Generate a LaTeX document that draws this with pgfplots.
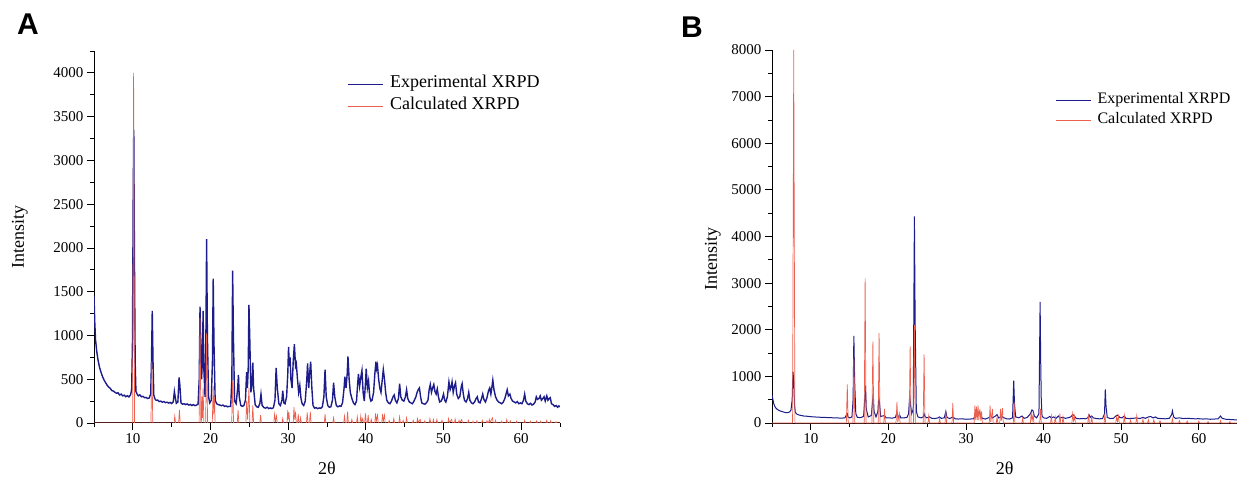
\documentclass[border=0pt]{standalone}
\usepackage{fontspec}
\setmainfont{Liberation Serif}
\newfontfamily\lettersf{Liberation Sans}
\newfontfamily\tickfont{Liberation Serif}
\usepackage{pgfplots}
\pgfplotsset{compat=1.18}
\definecolor{expblue}{RGB}{28,28,138}
\definecolor{calred}{RGB}{236,96,78}
\pgfplotsset{xrpd/.style={
  scale only axis, axis lines*=left, tick align=outside,
  xmin=5, xmax=65, ymin=0,
  xtick={10,20,...,60}, minor xtick={5,15,...,65},
  major tick length=7pt, minor tick length=4pt,
  every tick/.style={black, line width=0.8pt},
  axis line style={black, line width=1pt},
  tick label style={font=\tickfont\fontsize{15}{15}\selectfont},
  /pgf/number format/assume math mode=true,
  /pgf/number format/1000 sep={},
  scaled ticks=false,
  label style={font=\fontsize{18}{18}\selectfont},
  xlabel={2θ}, ylabel={Intensity},
  xlabel style={at={(axis description cs:0.5,-0.121)}, anchor=center},
  legend cell align=left,
  legend image code/.code={\draw[#1, line width=0.6pt] (0pt,0pt) -- (35pt,0pt); \path (41pt,0pt);},
}}
\begin{document}
\begin{tikzpicture}
\useasboundingbox (0,0) rectangle (1237pt,482pt);
\node[font=\lettersf\bfseries\fontsize{30}{30}\selectfont] at (28pt,458pt) {A};
\node[font=\lettersf\bfseries\fontsize{30}{30}\selectfont] at (692pt,455pt) {B};
\begin{axis}[xrpd, at={(94pt,59pt)}, anchor=south west, width=466pt, height=372pt,
  ymax=4250, ytick={0,500,...,4000}, minor ytick={250,750,...,4250},
  ylabel style={at={(axis description cs:-0.159,0.5)}, anchor=center},
  legend style={draw=none, fill=none, inner sep=0pt, at={(0.545,0.882)}, anchor=west,
    font=\fontsize{18}{18}\selectfont, row sep=6pt,
    nodes={inner sep=0pt, text height=12pt, text depth=4pt}}]
\addplot[expblue, line width=1.4pt] coordinates {
(5.0,1450) (5.1,1150) (5.2,950) (5.35,820) (5.5,730) (5.7,640) (5.9,580) (6.1,530) (6.3,490) (6.5,460) (6.7,430) (6.9,410) (7.1,395) (7.3,370) (7.5,365) (7.7,350) (7.9,340) (8.1,345) (8.3,320) (8.5,330) (8.7,310) (8.9,318) (9.1,300) (9.3,312) (9.5,298) (9.7,320) (9.85,380) (9.95,900) (10.05,2600) (10.12,3350) (10.2,2000) (10.3,700) (10.4,360) (10.55,330) (10.7,310) (10.9,322) (11.1,300) (11.3,305) (11.5,290) (11.7,292) (11.9,280) (12.1,285) (12.3,330) (12.4,700) (12.5,1280) (12.6,700) (12.7,320) (12.85,275) (13.0,258) (13.2,262) (13.4,245) (13.6,250) (13.8,238) (14.0,245) (14.2,232) (14.4,238) (14.6,228) (14.8,235) (15.0,222) (15.2,240) (15.35,360) (15.45,300) (15.6,225) (15.8,240) (15.95,520) (16.05,440) (16.2,230) (16.4,215) (16.6,220) (16.8,210) (17.0,218) (17.2,205) (17.4,212) (17.6,200) (17.8,210) (18.0,198) (18.2,205) (18.4,215) (18.55,500) (18.65,1330) (18.75,900) (18.85,500) (18.95,700) (19.05,1280) (19.15,600) (19.3,300) (19.4,900) (19.5,2100) (19.6,1000) (19.75,300) (19.9,230) (20.1,260) (20.25,700) (20.35,1650) (20.45,900) (20.6,260) (20.8,220) (21.0,210) (21.2,205) (21.4,198) (21.6,205) (21.8,190) (22.0,195) (22.2,185) (22.4,190) (22.6,190) (22.75,500) (22.85,1740) (22.95,1000) (23.1,250) (23.3,220) (23.5,400) (23.6,550) (23.7,300) (23.9,200) (24.1,190) (24.3,200) (24.5,260) (24.65,580) (24.75,400) (24.85,600) (24.95,1350) (25.05,1000) (25.2,350) (25.35,450) (25.45,690) (25.55,400) (25.75,210) (25.95,185) (26.15,180) (26.35,220) (26.5,330) (26.65,200) (26.9,175) (27.1,170) (27.3,180) (27.5,165) (27.7,172) (27.9,165) (28.1,175) (28.3,260) (28.45,630) (28.6,400) (28.8,220) (29.0,200) (29.2,260) (29.3,370) (29.45,230) (29.6,220) (29.8,300) (29.95,560) (30.05,870) (30.15,650) (30.25,750) (30.35,500) (30.5,400) (30.65,700) (30.8,900) (30.95,650) (31.05,680) (31.2,500) (31.35,350) (31.5,430) (31.65,280) (31.8,220) (32.0,200) (32.2,250) (32.4,500) (32.5,680) (32.65,400) (32.75,550) (32.9,700) (33.05,400) (33.2,200) (33.4,170) (33.6,175) (33.8,165) (34.0,172) (34.2,168) (34.4,185) (34.6,300) (34.75,610) (34.9,300) (35.1,200) (35.3,180) (35.5,185) (35.7,260) (35.85,460) (36.0,300) (36.2,200) (36.4,185) (36.6,195) (36.8,190) (37.0,230) (37.2,400) (37.3,530) (37.45,400) (37.6,560) (37.7,760) (37.85,500) (38.0,350) (38.2,280) (38.4,230) (38.6,210) (38.8,250) (38.95,450) (39.05,560) (39.2,420) (39.35,520) (39.5,600) (39.65,350) (39.8,250) (39.95,450) (40.05,620) (40.2,400) (40.35,480) (40.5,300) (40.65,250) (40.8,260) (41.0,350) (41.15,550) (41.3,700) (41.4,620) (41.5,660) (41.65,500) (41.8,400) (41.95,350) (42.1,480) (42.25,610) (42.4,500) (42.55,350) (42.7,260) (42.9,230) (43.1,220) (43.3,250) (43.5,300) (43.65,320) (43.8,260) (44.0,230) (44.2,280) (44.35,450) (44.5,300) (44.7,260) (44.9,250) (45.1,300) (45.25,380) (45.4,280) (45.6,240) (45.8,230) (46.0,220) (46.2,250) (46.45,300) (46.6,350) (46.75,380) (46.9,400) (47.05,300) (47.2,230) (47.4,220) (47.6,215) (47.8,230) (48.0,260) (48.15,380) (48.3,440) (48.45,350) (48.6,400) (48.75,440) (48.9,360) (49.05,330) (49.2,390) (49.35,300) (49.5,240) (49.7,250) (49.85,280) (50.0,330) (50.15,260) (50.3,240) (50.5,300) (50.7,470) (50.85,380) (51.0,420) (51.1,470) (51.25,350) (51.4,420) (51.55,460) (51.7,330) (51.9,280) (52.1,300) (52.3,420) (52.4,450) (52.55,330) (52.7,260) (52.9,240) (53.1,280) (53.25,350) (53.4,260) (53.6,230) (53.8,220) (54.0,240) (54.2,280) (54.35,300) (54.5,240) (54.7,230) (54.9,280) (55.05,330) (55.2,270) (55.4,240) (55.6,290) (55.8,370) (55.95,400) (56.1,330) (56.25,420) (56.35,490) (56.5,380) (56.7,300) (56.9,260) (57.1,240) (57.3,230) (57.5,220) (57.7,240) (57.9,280) (58.05,330) (58.2,380) (58.35,310) (58.55,330) (58.7,280) (58.9,250) (59.1,240) (59.3,230) (59.5,245) (59.7,220) (59.9,230) (60.1,220) (60.3,260) (60.45,330) (60.6,250) (60.8,220) (61.0,210) (61.2,225) (61.4,205) (61.6,215) (61.8,240) (61.95,300) (62.1,270) (62.3,280) (62.45,310) (62.6,260) (62.8,280) (62.95,300) (63.1,250) (63.3,310) (63.45,260) (63.6,280) (63.75,290) (63.9,220) (64.1,210) (64.3,190) (64.5,200) (64.7,180) (64.85,195) (65.0,185)
};
\addlegendentry{Experimental XRPD}
\addplot[calred, line width=0.7pt] coordinates {
(5,0) (9.98,0) (10.1,4000) (10.22,0)
(12.33,0) (12.45,700) (12.57,0)
(15.3,0) (15.4,80) (15.5,0)
(15.9,0) (16.0,150) (16.1,0)
(18.53,0) (18.65,1200) (18.76,0)
(18.82,0) (18.9,300) (18.97,60) (19.05,400) (19.15,0)
(19.38,0) (19.5,1030) (19.62,0)
(20.23,0) (20.35,420) (20.42,100) (20.5,300) (20.6,0)
(22.73,0) (22.85,480) (22.97,0)
(23.45,0) (23.55,150) (23.65,0)
(24.55,0) (24.65,250) (24.78,40) (24.95,400) (25.07,0)
(25.35,0) (25.45,200) (25.55,0)
(26.35,0) (26.45,90) (26.55,0)
(28.15,0) (28.25,100) (28.37,20) (28.5,80) (28.6,0)
(29.2,0) (29.3,50) (29.4,0)
(29.85,0) (29.95,150) (30.02,40) (30.1,120) (30.2,0)
(30.65,0) (30.75,180) (30.85,40) (30.95,130) (31.05,0)
(31.2,0) (31.3,100) (31.4,0) (31.5,0) (31.6,60) (31.7,0)
(32.35,0) (32.45,120) (32.55,10) (32.75,0) (32.85,130) (32.95,0)
(34.65,0) (34.75,100) (34.85,0)
(35.75,0) (35.85,60) (35.95,0)
(37.15,0) (37.25,80) (37.35,10) (37.55,0) (37.65,130) (37.75,0)
(38.1,0) (38.2,40) (38.3,0)
(38.8,0) (38.9,70) (39.0,0) (39.25,0) (39.35,80) (39.45,10) (39.6,50) (39.7,0)
(39.85,0) (39.95,110) (40.05,10) (40.2,0) (40.3,90) (40.4,0)
(40.6,0) (40.7,40) (40.8,0)
(41.15,0) (41.25,110) (41.35,20) (41.5,90) (41.6,0)
(42.05,0) (42.15,100) (42.25,20) (42.4,90) (42.5,0)
(42.9,0) (43.0,30) (43.1,0) (43.5,0) (43.6,50) (43.7,0)
(44.25,0) (44.35,70) (44.45,0) (44.7,0) (44.8,30) (44.9,0)
(45.15,0) (45.25,60) (45.35,0) (46.0,0) (46.1,30) (46.2,0)
(46.55,0) (46.65,50) (46.75,5) (47.0,40) (47.1,0) (47.5,0) (47.6,25) (47.7,0)
(48.15,0) (48.25,50) (48.35,5) (48.6,0) (48.7,40) (48.8,0) (49.05,0) (49.15,40) (49.25,0)
(49.7,0) (49.8,30) (49.9,0) (50.55,0) (50.65,50) (50.75,5) (51.05,40) (51.15,0)
(51.4,0) (51.5,45) (51.6,0) (51.9,0) (52.0,30) (52.1,5) (52.35,40) (52.45,0)
(53.1,0) (53.2,30) (53.3,0) (53.7,0) (53.8,20) (53.9,0) (54.2,0) (54.3,25) (54.4,0)
(54.9,0) (55.0,30) (55.1,0) (55.5,0) (55.6,25) (55.7,0) (55.8,0) (55.9,40) (56.0,5) (56.3,60) (56.4,0) (56.6,0) (56.7,30) (56.8,0)
(57.4,0) (57.5,20) (57.6,0) (58.05,0) (58.15,40) (58.25,0) (58.5,0) (58.6,25) (58.7,0)
(59.3,0) (59.4,20) (59.5,0) (60.35,0) (60.45,30) (60.55,0) (61.1,0) (61.2,20) (61.3,0)
(61.9,0) (62.0,25) (62.1,0) (62.4,0) (62.5,20) (62.6,0) (63.2,0) (63.3,30) (63.4,0)
(63.7,0) (63.8,25) (63.9,0) (64.4,0) (64.5,15) (64.6,0) (65,0)
};
\addlegendentry{Calculated XRPD}
\end{axis}
\begin{axis}[xrpd, at={(772pt,59pt)}, anchor=south west, width=465.6pt, height=373pt,
  ymax=8000, ytick={0,1000,...,8000}, minor ytick={500,1500,...,7500},
  ylabel style={at={(axis description cs:-0.127,0.44)}, anchor=center},
  legend style={draw=none, fill=none, inner sep=0pt, at={(0.609,0.839)}, anchor=west,
    font=\fontsize{16}{16}\selectfont, row sep=5.5pt,
    nodes={inner sep=0pt, text height=11pt, text depth=3.5pt}}]
\addplot[expblue, line width=1.0pt] coordinates {
(5.0,600) (5.1,520) (5.2,430) (5.35,360) (5.5,320) (5.7,290) (5.9,270) (6.1,255) (6.3,245) (6.5,235) (6.7,225) (6.9,220) (7.1,225) (7.3,240) (7.45,280) (7.6,500) (7.7,1100) (7.8,900) (7.9,400) (8.0,230) (8.2,190) (8.5,170) (8.8,160) (9.1,150) (9.5,145) (10.0,135) (10.5,130) (11.0,125) (11.5,120) (12.0,118) (12.5,115) (13.0,110) (13.5,108) (14.0,105) (14.4,110) (14.6,180) (14.7,200) (14.8,130) (15.0,110) (15.3,130) (15.45,500) (15.55,1870) (15.65,900) (15.8,200) (16.0,120) (16.4,115) (16.8,140) (16.95,500) (17.05,800) (17.15,300) (17.4,130) (17.8,160) (17.95,450) (18.05,620) (18.15,250) (18.4,130) (18.65,250) (18.75,550) (18.85,450) (19.0,140) (19.5,160) (19.7,110) (20.0,110) (20.5,105) (20.9,120) (21.05,200) (21.15,180) (21.3,120) (21.45,170) (21.6,110) (22.0,110) (22.4,120) (22.6,200) (22.75,600) (22.85,400) (23.0,200) (23.2,300) (23.35,4430) (23.45,2100) (23.6,250) (23.8,130) (24.2,110) (24.5,130) (24.6,200) (24.7,150) (24.9,110) (25.3,130) (25.6,100) (26.0,95) (26.4,110) (26.6,130) (26.8,100) (27.2,110) (27.4,250) (27.55,120) (27.9,95) (28.3,130) (28.6,90) (29.0,85) (29.5,90) (30.0,80) (30.5,85) (31.0,90) (31.2,200) (31.35,250) (31.5,180) (31.7,240) (31.85,180) (32.1,100) (32.5,85) (33.0,120) (33.15,160) (33.4,110) (33.8,150) (34.0,180) (34.2,110) (34.6,140) (34.8,120) (35.2,90) (35.6,85) (36.0,110) (36.15,910) (36.25,400) (36.4,130) (36.8,110) (37.2,150) (37.5,100) (37.9,120) (38.3,200) (38.5,280) (38.65,260) (38.8,150) (39.1,110) (39.4,200) (39.55,2600) (39.62,1400) (39.7,500) (39.8,150) (40.0,110) (40.4,100) (40.8,140) (41.0,110) (41.3,130) (41.6,100) (41.9,150) (42.1,110) (42.5,120) (42.8,100) (43.1,110) (43.5,130) (43.75,180) (43.9,160) (44.2,100) (44.6,90) (45.0,95) (45.4,90) (45.7,110) (45.85,180) (46.0,120) (46.2,150) (46.4,110) (46.8,95) (47.2,90) (47.6,95) (47.85,200) (47.95,720) (48.05,350) (48.2,120) (48.6,95) (49.0,100) (49.3,150) (49.55,170) (49.8,120) (50.1,110) (50.4,150) (50.6,100) (51.0,95) (51.5,100) (52.0,110) (52.4,95) (52.8,120) (53.1,100) (53.5,130) (53.8,140) (54.1,110) (54.4,130) (54.7,100) (55.2,95) (55.7,90) (56.2,100) (56.5,180) (56.6,260) (56.75,130) (57.0,100) (57.5,110) (58.0,95) (58.5,100) (59.0,95) (59.5,90) (60.0,92) (60.5,85) (61.0,88) (61.5,80) (62.0,85) (62.5,90) (62.8,150) (63.0,100) (63.5,80) (64.0,75) (64.5,70) (65.0,65)
};
\addlegendentry{Experimental XRPD}
\addplot[calred, line width=0.7pt] coordinates {
(5,0) (7.65,0) (7.8,8000) (7.95,0)
(14.58,0) (14.7,830) (14.82,0)
(15.43,0) (15.55,1400) (15.67,0)
(16.88,0) (17.0,3100) (17.12,0)
(17.88,0) (18.0,1750) (18.12,0)
(18.68,0) (18.8,1930) (18.92,0)
(19.4,0) (19.5,300) (19.6,0)
(20.98,0) (21.1,450) (21.22,20) (21.4,200) (21.5,0)
(22.68,0) (22.8,1650) (22.92,0)
(23.23,0) (23.35,2100) (23.47,0)
(24.48,0) (24.6,1470) (24.72,0)
(25.1,0) (25.2,150) (25.3,0)
(26.5,0) (26.6,80) (26.7,0)
(27.3,0) (27.4,250) (27.5,0)
(28.2,0) (28.3,430) (28.4,0)
(31.05,0) (31.15,380) (31.25,60) (31.35,350) (31.45,60) (31.55,380) (31.65,60) (31.8,300) (31.9,50) (32.0,250) (32.1,0)
(33.0,0) (33.1,380) (33.2,20) (33.4,300) (33.5,0)
(33.9,0) (34.0,130) (34.1,0) (34.35,0) (34.45,300) (34.55,50) (34.7,320) (34.8,0)
(36.1,0) (36.2,450) (36.3,0)
(37.2,0) (37.3,100) (37.4,0)
(38.3,0) (38.4,230) (38.52,40) (38.65,200) (38.75,0)
(39.5,0) (39.6,300) (39.7,0)
(40.9,0) (41.0,150) (41.1,0) (41.4,0) (41.5,120) (41.6,0)
(42.0,0) (42.1,200) (42.2,0) (42.4,0) (42.5,130) (42.6,0)
(43.65,0) (43.75,200) (43.87,40) (44.0,150) (44.1,0)
(45.7,0) (45.8,180) (45.9,0) (46.1,0) (46.2,120) (46.3,0)
(47.8,0) (47.9,200) (48.0,0)
(49.3,0) (49.4,130) (49.52,30) (49.65,150) (49.75,0)
(50.3,0) (50.4,160) (50.5,0) (51.1,0) (51.2,60) (51.3,0)
(51.9,0) (52.0,150) (52.1,0) (52.7,0) (52.8,80) (52.9,0)
(53.4,0) (53.5,70) (53.6,0) (54.1,0) (54.2,70) (54.3,0)
(54.9,0) (55.0,50) (55.1,0) (56.5,0) (56.6,90) (56.7,0)
(57.4,0) (57.5,50) (57.6,0) (58.4,0) (58.5,40) (58.6,0)
(59.9,0) (60.0,40) (60.1,0) (61.1,0) (61.2,30) (61.3,0)
(62.7,0) (62.8,50) (62.9,0) (63.9,0) (64.0,30) (64.1,0) (65,0)
};
\addlegendentry{Calculated XRPD}
\end{axis}
\end{tikzpicture}
\end{document}
